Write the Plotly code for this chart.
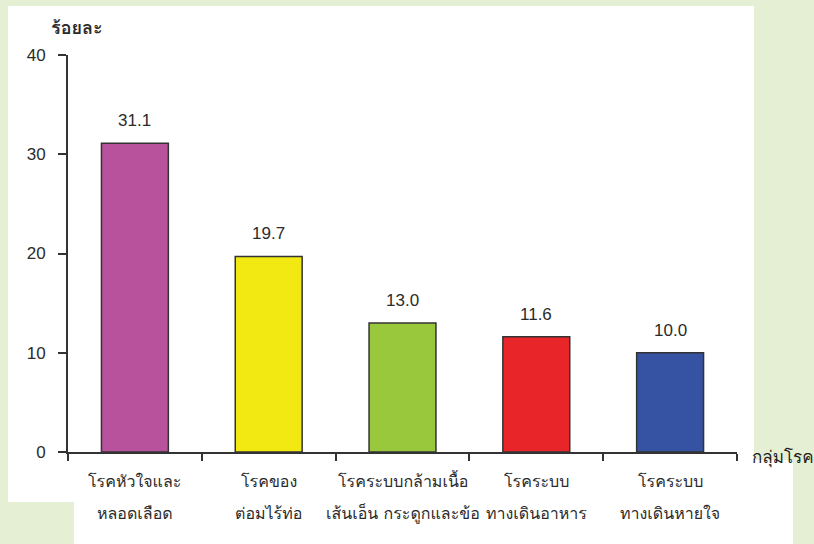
import plotly.graph_objects as go

categories = ["โรคหัวใจและหลอดเลือด", "โรคของต่อมไร้ท่อ", "โรคระบบกล้ามเนื้อเส้นเอ็น กระดูกและข้อ",
              "โรคระบบทางเดินอาหาร", "โรคระบบทางเดินหายใจ"]
label_line1 = ["โรคหัวใจและ", "โรคของ", "โรคระบบกล้ามเนื้อ", "โรคระบบ", "โรคระบบ"]
label_line2 = ["หลอดเลือด", "ต่อมไร้ท่อ", "เส้นเอ็น กระดูกและข้อ", "ทางเดินอาหาร", "ทางเดินหายใจ"]
values = [31.1, 19.7, 13.0, 11.6, 10.0]
bar_colors = ["#B8529C", "#F2E913", "#99C83C", "#E8262A", "#3652A3"]
y_ticks = [0, 10, 20, 30, 40]

W, H = 814, 544
L, R, T, B = 68, 77, 55, 92
pw, ph = W - L - R, H - T - B

def px2x(px):
    return (px - L) / pw

def py2y(py):
    return (H - B - py) / ph

thai_font = "Tahoma, Loma, Garuda, Waree, 'Noto Sans Thai Looped', 'Noto Sans Thai', 'Noto Sans', sans-serif"
num_font = "'Liberation Sans', Arial, sans-serif"
dark = "#2b2b2b"

fig = go.Figure()
fig.add_trace(go.Bar(
    x=categories, y=values,
    marker=dict(color=bar_colors, line=dict(color="#333333", width=1.5)),
    width=0.5, hoverinfo="skip",
))

annotations = []
for c, v in zip(categories, values):
    annotations.append(dict(x=c, y=v, xref="x", yref="y", text=f"{v:.1f}", showarrow=False,
                            yanchor="bottom", yshift=11,
                            font=dict(family=num_font, size=17, color=dark)))
for c, l1, l2 in zip(categories, label_line1, label_line2):
    annotations.append(dict(x=c, y=0, xref="x", yref="y", text=l1, showarrow=False,
                            yanchor="middle", yshift=-29,
                            font=dict(family=thai_font, size=16, color=dark)))
    annotations.append(dict(x=c, y=0, xref="x", yref="y", text=l2, showarrow=False,
                            yanchor="middle", yshift=-61,
                            font=dict(family=thai_font, size=16, color=dark)))
annotations.append(dict(x=px2x(77), y=py2y(27), xref="paper", yref="paper", text="<b>ร้อยละ</b>",
                        showarrow=False, xanchor="center", yanchor="middle",
                        font=dict(family=thai_font, size=18, color=dark)))
annotations.append(dict(x=px2x(750), y=py2y(456), xref="paper", yref="paper", text="กลุ่มโรค",
                        showarrow=False, xanchor="left", yanchor="middle",
                        font=dict(family=thai_font, size=17, color="#1e1e1e")))

shapes = [
    dict(type="rect", xref="paper", yref="paper", layer="below",
         x0=px2x(8), x1=px2x(754), y0=py2y(502), y1=py2y(6),
         fillcolor="white", line=dict(width=0)),
    dict(type="rect", xref="paper", yref="paper", layer="below",
         x0=px2x(74), x1=px2x(793), y0=py2y(544), y1=py2y(460),
         fillcolor="white", line=dict(width=0)),
]

fig.update_layout(
    width=W, height=H,
    margin=dict(l=L, r=R, t=T, b=B),
    paper_bgcolor="#E5EFD4",
    plot_bgcolor="rgba(0,0,0,0)",
    showlegend=False,
    annotations=annotations,
    shapes=shapes,
    xaxis=dict(showticklabels=False, showline=True, linecolor="#333333", linewidth=2,
               ticks="outside", tickson="boundaries", ticklen=7, tickwidth=1.5, tickcolor="#333333",
               showgrid=False, zeroline=False, fixedrange=True),
    yaxis=dict(range=[0, 40], tickvals=y_ticks, showline=True, linecolor="#333333", linewidth=2,
               ticks="outside", ticklen=8, tickwidth=1.5, tickcolor="#333333",
               ticklabelstandoff=9,
               tickfont=dict(family=num_font, size=17, color=dark),
               showgrid=False, zeroline=False, fixedrange=True),
)

fig.write_html("out.html", config={"displayModeBar": False},
               post_script="document.body.style.margin='0';document.body.style.padding='0';")
